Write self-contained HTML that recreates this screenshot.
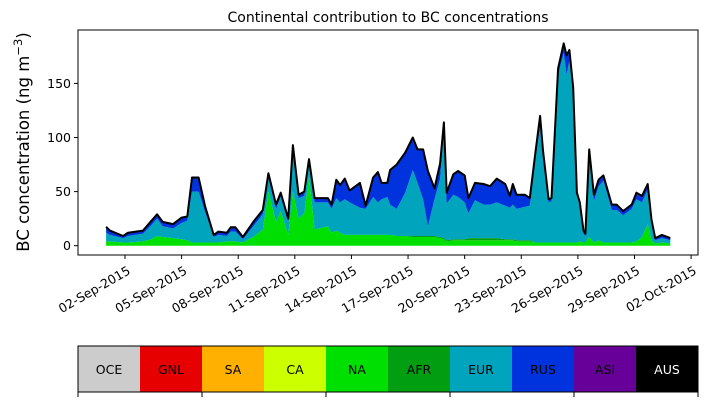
<!DOCTYPE html>
<html><head><meta charset="utf-8"><style>
body{margin:0;background:#fff;}
svg{display:block;font-family:"DejaVu Sans","Liberation Sans",sans-serif;}
</style></head><body>
<svg id="chart" width="707" height="402">
<text x="388" y="22" text-anchor="middle" font-size="14">Continental contribution to BC concentrations</text>
<text transform="translate(29,142) rotate(-90)" text-anchor="middle" font-size="16.5">BC concentration (ng m<tspan dy="-7" font-size="11.5">−3</tspan><tspan dy="7">)</tspan></text>
<g id="areas"></g>
<g id="axes"></g>
<g id="legend"></g>
</svg>
<script>
const days=[1.0,1.2,1.9,2.16,2.95,3.4,3.7,4.0,4.55,5.0,5.3,5.55,5.9,6.25,6.7,6.95,7.4,7.6,7.85,8.25,8.8,9.3,9.6,10.0,10.25,10.65,10.9,11.2,11.5,11.75,12.05,12.75,12.95,13.2,13.4,13.65,13.9,14.45,14.75,15.15,15.4,15.6,15.9,16.05,16.4,16.85,17.25,17.5,17.8,18.05,18.4,18.7,18.9,19.05,19.4,19.65,20.0,20.2,20.55,21.0,21.35,21.7,22.15,22.4,22.55,22.75,23.2,23.45,23.75,24.0,24.15,24.45,24.6,24.95,25.25,25.4,25.55,25.75,25.95,26.1,26.3,26.4,26.6,26.85,27.1,27.35,27.8,28.05,28.4,28.85,29.1,29.4,29.7,29.9,30.1,30.45,30.9];
const naVals=[4,4,3,3,4,6,9,8,7,6,5,3,3,3,3,3,4,4,4,3,8,15,50,22,32,10,50,25,30,64,15,18,12,14,12,10,10,10,10,10,10,10,10,10,9,9,8,8,8,8,8,7,6,4,5,5,5,5,5,5,5,5,5,5,5,4,4,4,3,3,3,3,3,3,3,3,3,3,3,4,3,3,8,3,5,3,3,3,3,3,4,8,20,5,2,3,2];
const afrVals=[0,0,0,0,0,0,0,0,0,0,0,0,0,0,0,0,0,0,0,0,0,0,0,0,0,0,0,0,0,0,0,0,0,0,0,0,0,0,0,0,0,0,0,0,0,0,1,1,1,1,1,1,1,1,1,1,1,2,2,2,2,2,1,1,1,1,1,1,0,0,0,0,0,0,0,0,0,0,0,0,0,0,0,0,0,0,0,0,0,0,0,0,0,0,0,0,0];
const eurVals=[8,6,4,6,7,13,16,10,9,15,18,47,47,28,5,7,5,9,9,3,10,14,12,12,13,12,38,19,16,12,25,22,22,30,28,33,30,25,24,35,30,33,35,28,25,40,61,49,34,9,34,54,99,34,41,39,34,23,35,31,31,33,31,29,32,29,31,32,76,107,77,37,38,155,175,155,168,138,43,33,8,6,75,38,50,57,30,30,25,31,39,32,32,16,3,4,3];
const rusVals=[5.5,4,2,3,3,4,4,4,4,5,4,13,13,5,2,3,3,4,4,2,4,4,5,4,4,3,5,3,4,4,4,4,4,17,16,19,11,23,3,18,28,15,13,32,41,37,30,31,46,51,10,14,8,10,19,24,25,14,16,19,17,22,20,11,19,13,11,7,7,10,8,3,3,6,9,18,10,5,3,3,3,2,6,6,6,5,5,5,4,4,4,5,4,3,2,3,2];
const asiVals=[0,0,0,0,0,0,0,0,0,0,0,0,0,0,0,0,0,0,0,0,0,0,0,0,0,0,0,0,0,0,0,0,0,0,0,0,0,0,0,0,0,0,0,0,0,0,0,0,0,0,0,0,0,0,0,0,0,0,0,0,0,0,0,0,0,0,0,0,0,0,0,0,0,0,0,0,0,0,0,0,0,0,0,0,0,0,0,0,0,0,2,1,1,0,0,0,0];
const yTicks=[0,50,100,150];
const xTickDays=[2,5,8,11,14,17,20,23,26,29,32];
const xTickLabels=["02-Sep-2015","05-Sep-2015","08-Sep-2015","11-Sep-2015","14-Sep-2015","17-Sep-2015","20-Sep-2015","23-Sep-2015","26-Sep-2015","29-Sep-2015","02-Oct-2015"];
const legendNames=["OCE","GNL","SA","CA","NA","AFR","EUR","RUS","ASI","AUS"];
const legendColors=["#cccccc","#e60000","#ffb000","#ccff00","#00e000","#009e10","#00a5bd","#0033dd","#660099","#000000"];

const NS="http://www.w3.org/2000/svg";
const L=78,R=698,T=30,B=255;
function xs(d){return 125+(d-2)*18.87;}
function ys(v){return 245.7-v*1.082;}
function mk(tag,attrs,parent){const e=document.createElementNS(NS,tag);for(const k in attrs)e.setAttribute(k,attrs[k]);parent.appendChild(e);return e;}

const areas=document.getElementById('areas');
const layers=[["na",naVals,"#00e000"],["afr",afrVals,"#009e10"],["eur",eurVals,"#00a5bd"],["rus",rusVals,"#0033dd"],["asi",asiVals,"#660099"]];
let base=days.map(()=>0);
layers.forEach(([nm,vals,col])=>{
  const top=base.map((b,i)=>b+vals[i]);
  let d="M"+days.map((t,i)=>xs(t).toFixed(1)+","+ys(top[i]).toFixed(1)).join("L");
  for(let i=days.length-1;i>=0;i--)d+="L"+xs(days[i]).toFixed(1)+","+ys(base[i]).toFixed(1);
  d+="Z";
  const p=mk('path',{d:d,fill:col,stroke:"none"},areas);
  
  
  base=top;
});
const tl=mk('path',{d:"M"+days.map((t,i)=>xs(t).toFixed(1)+","+ys(base[i]).toFixed(1)).join("L"),fill:"none",stroke:"#000","stroke-width":2,"stroke-linejoin":"round"},areas);



const axes=document.getElementById('axes');
const fr=mk('rect',{x:L,y:T,width:R-L,height:B-T,fill:"none",stroke:"#000","stroke-width":1},axes);


yTicks.forEach(v=>{
  mk('line',{x1:L-4,x2:L,y1:ys(v),y2:ys(v),stroke:"#000"},axes);
  const t=mk('text',{x:L-7,y:ys(v)+4.5,"text-anchor":"end","font-size":12.5},axes);
  t.textContent=v;
  
  
});
xTickDays.forEach((d,i)=>{
  const x=xs(d);
  mk('line',{x1:x,x2:x,y1:B,y2:B+4,stroke:"#000"},axes);
  const t=mk('text',{transform:"translate("+(x+1)+","+(B+9)+") rotate(-30)","text-anchor":"end","font-size":12.5,dy:"0.85em"},axes);
  t.textContent=xTickLabels[i];
  
  
});

const lg=document.getElementById('legend');
const LY=346,LH=46,cw=(R-L)/legendNames.length;
legendNames.forEach((n,i)=>{
  const r=mk('rect',{x:L+i*cw,y:LY,width:cw,height:LH,fill:legendColors[i]},lg);
  
  
  const t=mk('text',{x:L+i*cw+cw/2,y:LY+LH/2+5,"text-anchor":"middle","font-size":12.5,fill:n==="AUS"?"#fff":"#000"},lg);
  t.textContent=n;
  
  
});
mk('rect',{x:L,y:LY,width:R-L,height:LH,fill:"none",stroke:"#000"},lg);
for(let i=0;i<=legendNames.length;i+=2){mk('line',{x1:L+i*cw,x2:L+i*cw,y1:LY+LH,y2:LY+LH+5,stroke:"#000"},lg);}
</script>
</body></html>
